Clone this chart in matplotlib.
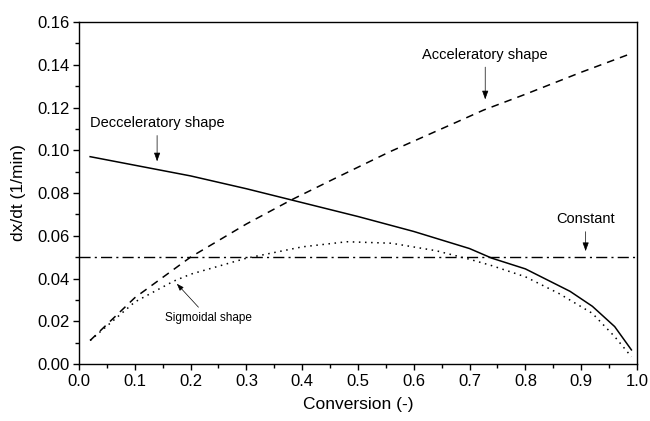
import numpy as np
import matplotlib
matplotlib.use("Agg")
import matplotlib.pyplot as plt
from matplotlib.ticker import MultipleLocator

plt.rcParams["font.family"] = ["Liberation Sans", "DejaVu Sans"]

# ---------------------------------------------------------
# rate curves dx/dt vs conversion
# ---------------------------------------------------------
decel_x = [0.02, 0.10, 0.20, 0.30, 0.40, 0.50, 0.60, 0.70, 0.74, 0.80, 0.88, 0.92, 0.96, 0.99]
decel_y = [0.097, 0.093, 0.088, 0.082, 0.0755, 0.069, 0.062, 0.054, 0.0495, 0.0445, 0.034, 0.027, 0.0175, 0.0066]

accel_x = [0.02, 0.10, 0.20, 0.30, 0.38, 0.46, 0.557, 0.665, 0.725, 0.80, 0.90, 0.99]
accel_y = [0.011, 0.031, 0.050, 0.0655, 0.0767, 0.087, 0.0993, 0.1118, 0.1188, 0.1262, 0.1365, 0.1453]

sigm_x = [0.02, 0.10, 0.17, 0.20, 0.30, 0.40, 0.48, 0.56, 0.64, 0.70, 0.74, 0.80, 0.86, 0.92, 0.96, 0.99]
sigm_y = [0.011, 0.029, 0.0388, 0.042, 0.0495, 0.0548, 0.0572, 0.0565, 0.053, 0.049, 0.046, 0.0408, 0.033, 0.0237, 0.0128, 0.0034]

const_x = [0.0, 1.0]
const_y = [0.05, 0.05]

fig = plt.figure(figsize=(6.5, 4.21), dpi=100)
ax = fig.add_axes([0.1215, 0.1354, 0.8585, 0.8123])

ax.plot(decel_x, decel_y, color="black", lw=1.1, ls="-")
ax.plot(accel_x, accel_y, color="black", lw=1.1, ls=(0, (5, 4)))
ax.plot(sigm_x, sigm_y, color="black", lw=1.1, ls=(0, (1, 3)))
ax.plot(const_x, const_y, color="black", lw=1.0, ls=(0, (8, 3, 1.5, 3)))

ax.set_xlim(0.0, 1.0)
ax.set_ylim(0.0, 0.16)
ax.xaxis.set_major_locator(MultipleLocator(0.1))
ax.xaxis.set_minor_locator(MultipleLocator(0.05))
ax.yaxis.set_major_locator(MultipleLocator(0.02))
ax.yaxis.set_minor_locator(MultipleLocator(0.01))
ax.xaxis.set_major_formatter(plt.FormatStrFormatter("%.1f"))
ax.yaxis.set_major_formatter(plt.FormatStrFormatter("%.2f"))
ax.tick_params(which="major", direction="out", length=4, width=1.0, labelsize=12, pad=3)
ax.tick_params(which="minor", direction="out", length=3, width=1.0)
for sp in ax.spines.values():
    sp.set_linewidth(1.0)

ax.set_xlabel("Conversion (-)", fontsize=12.5, labelpad=6)
ax.set_ylabel("dx/dt (1/min)", fontsize=12.5, labelpad=8)

arrow = dict(arrowstyle="-|>,head_length=0.5,head_width=0.18", color="black", lw=0.5)

ax.annotate("Decceleratory shape", xy=(0.14, 0.0935), xytext=(0.14, 0.1095),
            ha="center", va="bottom", fontsize=10.5, arrowprops=arrow)
ax.annotate("Acceleratory shape", xy=(0.728, 0.1225), xytext=(0.728, 0.1415),
            ha="center", va="bottom", fontsize=10.5, arrowprops=arrow)
ax.annotate("Constant", xy=(0.908, 0.0515), xytext=(0.908, 0.0645),
            ha="center", va="bottom", fontsize=10.5, arrowprops=arrow)
ax.annotate("Sigmoidal shape", xy=(0.172, 0.0385), xytext=(0.232, 0.0215),
            ha="center", va="center", fontsize=8.5, arrowprops=arrow)

fig.savefig("out.png", dpi=100)
